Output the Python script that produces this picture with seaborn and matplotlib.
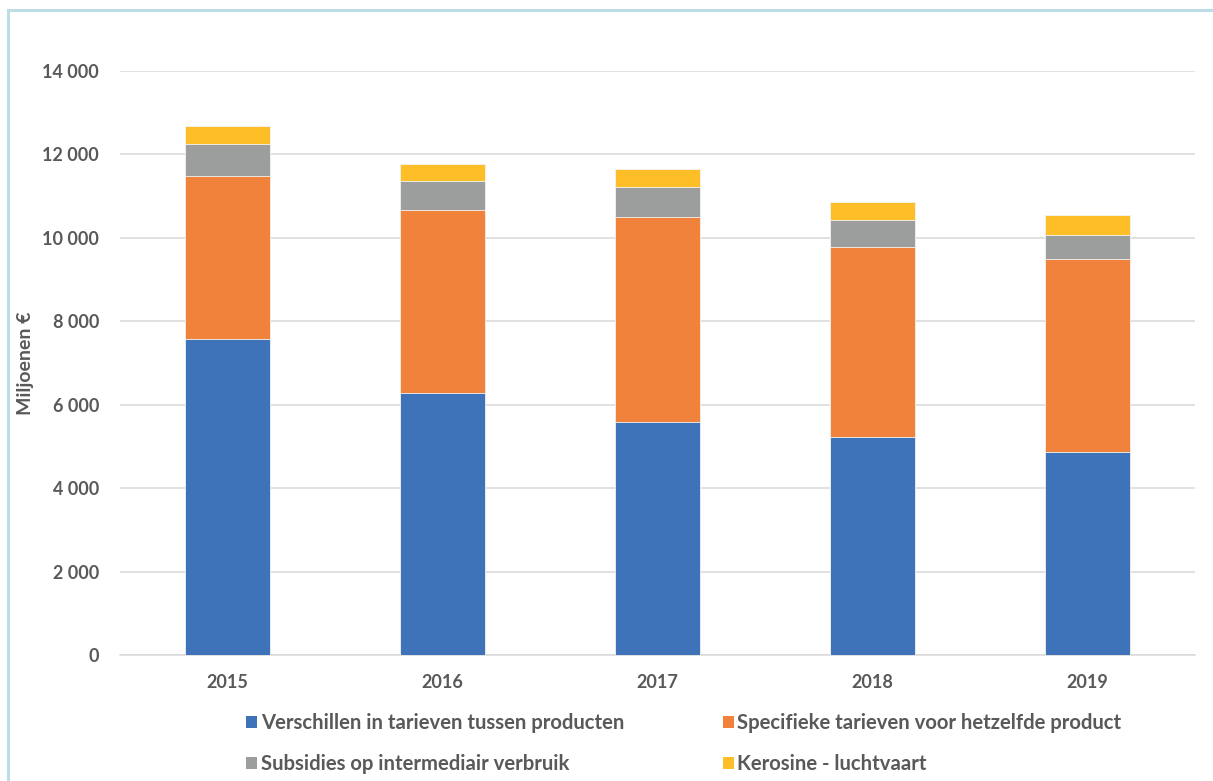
import numpy as np
import pandas as pd
import matplotlib
matplotlib.use("Agg")
import matplotlib.pyplot as plt
import matplotlib.patches as mpatches
from matplotlib.ticker import FuncFormatter, MultipleLocator
import seaborn as sns

years = ["2015", "2016", "2017", "2018", "2019"]
verschillen = [7580, 6280, 5580, 5225, 4865]
specifieke = [3910, 4395, 4930, 4550, 4620]
subsidies = [750, 695, 710, 660, 590]
kerosine = [445, 400, 430, 425, 470]

series_names = [
    "Verschillen in tarieven tussen producten",
    "Specifieke tarieven voor hetzelfde product",
    "Subsidies op intermediair verbruik",
    "Kerosine - luchtvaart",
]
series_values = [verschillen, specifieke, subsidies, kerosine]
colors = ["#3e73b9", "#f0823b", "#9b9e9d", "#fdbe28"]

sns.set_theme(style="white")
plt.rcParams["font.family"] = ["Lato", "DejaVu Sans"]
text_color = "#595959"

fig = plt.figure(figsize=(12.13, 7.81), dpi=100)
ax = fig.add_axes([120 / 1213, 1 - 655 / 781, 1075 / 1213, 584 / 781])

# stacked bars: draw the cumulative totals from the top layer down
cum = np.cumsum(np.array(series_values, dtype=float), axis=0)
for i in range(len(series_names) - 1, -1, -1):
    df = pd.DataFrame({"year": years, "value": cum[i]})
    sns.barplot(data=df, x="year", y="value", color=colors[i], ax=ax,
                width=0.395, saturation=1, edgecolor="#f4f4f4", linewidth=0.6,
                zorder=3)

ax.set_ylim(0, 14000)
ax.set_xlim(-0.5, 4.5)
ax.yaxis.set_major_locator(MultipleLocator(2000))
ax.yaxis.set_major_formatter(FuncFormatter(lambda v, p: f"{int(v):,}".replace(",", " ")))
ax.grid(axis="y", color="#d9d9d9", linewidth=1.1, zorder=0)
ax.set_axisbelow(True)
for side in ["top", "right", "left"]:
    ax.spines[side].set_visible(False)
ax.spines["bottom"].set_color("#d9d9d9")
ax.spines["bottom"].set_linewidth(1.1)
ax.tick_params(axis="both", length=0, labelsize=13, labelcolor=text_color)
ax.tick_params(axis="y", pad=15)
ax.tick_params(axis="x", pad=14)
for lbl in ax.get_xticklabels() + ax.get_yticklabels():
    lbl.set_fontweight("bold")
ax.set_xlabel("")
ax.set_ylabel("Miljoenen €", fontsize=14, fontweight="bold", color=text_color)
ax.yaxis.set_label_coords(-86 / 1075, 0.5)

handles = [mpatches.Patch(facecolor=c, edgecolor="none") for c in colors]
order = [0, 2, 1, 3]
leg = fig.legend([handles[k] for k in order], [series_names[k] for k in order],
                 ncol=2, loc="upper left", bbox_to_anchor=(246 / 1213, 1 - 713 / 781),
                 frameon=False, fontsize=14.6, handlelength=0.55, handleheight=0.55,
                 handletextpad=0.18, columnspacing=4.85, labelspacing=1.05,
                 borderaxespad=0, borderpad=0)
for t in leg.get_texts():
    t.set_color(text_color)
    t.set_fontweight("bold")

# light blue frame around the chart area
fig.patches.append(mpatches.Rectangle((8 / 1213, -0.1), 1.2, 1 - 10 / 781 + 0.1,
                                      transform=fig.transFigure, fill=False,
                                      edgecolor="#bcdde6", linewidth=2.2))

fig.savefig("out.png", dpi=100)
